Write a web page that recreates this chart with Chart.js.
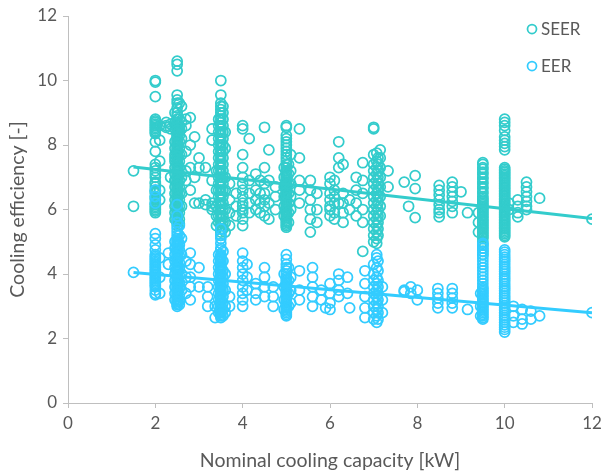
<!DOCTYPE html>
<html>
<head>
<meta charset="utf-8">
<script src="https://cdn.jsdelivr.net/npm/chart.js@4.4.1/dist/chart.umd.min.js"></script>
<style>
  html, body { margin: 0; padding: 0; background: #fff; }
  #wrap { width: 601px; height: 473px; }
</style>
</head>
<body>
<div id="wrap"><canvas id="effChart" width="601" height="473"></canvas></div>
<script>
// capacity columns [kW] and the efficiencies read at each column
const seerColX = [1.5, 2.0, 2.1, 2.25, 2.35, 2.45, 2.5, 2.55, 2.6, 2.7, 2.8, 2.9, 3.0, 3.15, 3.3, 3.4, 3.5, 3.6, 3.7, 3.85,
  4.0, 4.15, 4.3, 4.5, 4.6, 4.75, 5.0, 5.1, 5.3, 5.55, 5.7, 6.0, 6.2, 6.3, 6.45, 6.6, 6.75, 7.0, 7.07, 7.15, 7.33,
  7.7, 7.8, 7.95, 8.5, 8.8, 9.0, 9.15, 9.4, 9.5, 10.0, 10.1, 10.3, 10.5, 10.8, 12.0,
  2.45, 2.55, 2.5, 3.45, 3.55, 2.0, 5.0, 4.95, 5.05, 9.5, 10.0, 7.1, 6.1, 4.4];
const seerColY = [
  [7.2, 6.1],
  [10.0, 9.95, 9.5, 8.8, 8.75, 8.7, 8.65, 8.6, 8.5, 8.45, 8.4, 8.1, 7.8, 7.4, 7.3, 7.2, 7.0, 6.85, 6.8, 6.6, 6.5, 6.4, 6.3, 6.2, 6.1, 6.0, 5.9],
  [8.15, 7.5, 8.6, 6.6, 6.3],
  [8.6, 8.7, 8.55],
  [8.65, 8.5, 7.0],
  [8.7, 8.5, 9.0, 7.6, 6.9],
  [10.6, 10.5, 10.3, 9.55, 9.4, 9.3, 9.15, 9.0, 8.9, 8.8, 8.7, 8.6, 8.5, 8.4, 8.3, 8.2, 8.1, 8.0, 7.9, 7.8, 7.7, 7.6, 7.5, 7.4,
    7.3, 7.2, 7.1, 7.0, 6.9, 6.8, 6.7, 6.6, 6.5, 6.4, 6.3, 6.2, 6.1, 6.0, 5.9, 5.8, 5.7, 5.6, 5.5],
  [9.3, 8.6, 8.8, 8.4, 7.3, 6.9],
  [9.2, 8.7, 8.5, 8.2, 7.7, 7.0, 6.5, 6.1],
  [8.8, 8.6, 7.8, 7.2, 6.9],
  [8.85, 8.0, 7.3, 6.6],
  [8.25, 7.0, 6.2],
  [7.6, 7.3, 6.2],
  [7.3, 6.3, 6.15],
  [8.5, 8.15, 6.9, 6.2, 6.1, 6.0],
  [7.2, 6.6, 6.1, 5.8, 5.5],
  [10.0, 9.55, 9.3, 9.2, 9.1, 9.0, 8.9, 8.8, 8.7, 8.6, 8.5, 8.4, 8.3, 8.2, 8.1, 8.0, 7.9, 7.8, 7.7, 7.6, 7.5, 7.4, 7.3, 7.2,
    7.1, 7.0, 6.9, 6.8, 6.7, 6.6, 6.5, 6.4, 6.3, 6.2, 6.1, 6.0, 5.9, 5.8, 5.7, 5.6, 5.5, 5.4, 5.3, 5.2],
  [8.4, 7.9, 7.0, 6.6, 6.0, 5.6, 5.3],
  [6.8, 6.3, 5.9, 5.5],
  [6.5, 6.1, 5.8],
  [8.6, 8.5, 7.7, 7.3, 7.0, 6.8, 6.6, 6.4, 6.2, 6.1, 6.0, 5.9, 5.7, 5.5],
  [8.2, 6.9, 6.5, 6.2, 5.9],
  [7.1, 6.6, 6.3, 6.0],
  [8.55, 7.3, 6.8, 6.5, 6.3, 6.1, 5.8],
  [7.85, 6.9, 6.2, 5.7],
  [6.7, 6.4, 6.0],
  [8.6, 8.55, 8.3, 8.1, 8.0, 7.8, 7.6, 7.4, 7.3, 7.2, 7.1, 7.0, 6.9, 6.8, 6.7, 6.6, 6.5, 6.4, 6.3, 6.2, 6.1, 6.0, 5.9, 5.8,
    5.7, 5.6, 5.5, 5.45],
  [7.7, 7.2, 6.8, 6.4, 6.0],
  [8.5, 7.6, 6.9, 6.6, 6.2],
  [6.9, 6.6, 6.3, 6.0, 5.7, 5.3],
  [6.5, 6.0, 5.6],
  [7.0, 6.8, 6.5, 6.3, 6.1, 6.0, 5.8],
  [7.6, 7.3, 8.1, 6.2],
  [7.4, 6.5, 6.2, 5.9, 5.6],
  [6.3, 6.0],
  [7.0, 6.6, 6.2, 5.8],
  [7.45, 6.9, 6.5, 6.0, 5.6, 4.7],
  [8.55, 8.5, 7.7, 7.4, 7.2, 7.0, 6.8, 6.6, 6.4, 6.2, 6.0, 5.8, 5.6, 5.4, 5.2, 5.0],
  [7.75, 7.5, 7.3, 7.1, 6.9, 6.7, 6.5, 6.3, 6.1, 5.9, 5.7, 5.5, 5.3, 5.1, 4.95],
  [7.85, 7.6, 7.3, 7.0, 6.7, 6.4, 6.1, 5.8],
  [7.2, 6.7],
  [6.85],
  [6.1],
  [7.05, 6.65, 5.75],
  [6.75, 6.6, 6.45, 6.3, 6.15, 6.0, 5.9, 5.77],
  [6.85, 6.7, 6.55, 6.4, 6.25, 6.1, 5.9],
  [6.55],
  [5.9],
  [5.9, 5.6, 5.3],
  [7.45, 7.3, 7.15, 7.0, 6.85, 6.7, 6.55, 6.4, 6.3, 6.2, 6.1, 6.0, 5.9, 5.8, 5.7, 5.6, 5.5, 5.4, 5.3, 5.2, 5.1, 4.9, 4.7],
  [8.8, 8.6, 8.25, 8.05, 7.85, 7.3, 7.2, 7.1, 7.0, 6.9, 6.8, 6.7, 6.6, 6.5, 6.4, 6.3, 6.2, 6.1, 6.0, 5.9, 5.8, 5.7, 5.6,
    5.5, 5.4, 5.3, 5.2],
  [6.2, 6.0],
  [6.3, 6.1, 5.9, 5.77],
  [6.85, 6.7, 6.55, 6.4, 6.25, 6.1, 6.0],
  [6.35],
  [5.7],
  // second pass on the crowded columns
  [8.1, 7.9, 7.7, 7.5, 7.3, 7.1, 6.9, 6.7, 6.5, 6.3, 6.1, 5.9, 5.7],
  [8.5, 8.3, 8.1, 7.9, 7.7, 7.5, 7.3, 7.1, 6.9, 6.7, 6.5, 6.3, 6.1, 5.9, 5.7, 5.55],
  [8.65, 8.55, 8.45, 8.35, 8.25, 8.15, 8.05, 7.95, 7.85, 7.75, 7.65, 7.55, 7.45, 7.35, 7.25, 7.15, 7.05, 6.95, 6.85,
    6.75, 6.65, 6.55, 6.45, 6.35, 6.25, 6.15, 6.05, 5.95, 5.85, 5.75, 5.65],
  [8.8, 8.6, 8.4, 8.2, 8.0, 7.8, 7.6, 7.4, 7.2, 7.0, 6.8, 6.6, 6.4, 6.2, 6.0, 5.8, 5.6],
  [9.2, 9.0, 8.8, 8.6, 8.4, 8.2, 8.0, 7.8, 7.6, 7.4, 7.2, 7.0, 6.8, 6.6, 6.4, 6.2, 6.0, 5.8, 5.6, 5.4],
  [8.55, 8.35, 7.1, 6.7, 6.55, 6.35, 6.15, 6.05, 5.95],
  [8.2, 7.9, 7.7, 7.5, 7.15, 7.05, 6.95, 6.85, 6.75, 6.65, 6.55, 6.45, 6.35, 6.25, 6.15, 6.05, 5.95, 5.85, 5.75, 5.65, 5.55],
  [7.3, 7.0, 6.7, 6.4, 6.1, 5.8],
  [7.4, 7.1, 6.8, 6.5, 6.2, 5.9, 5.6],
  [7.4, 7.25, 7.1, 6.95, 6.8, 6.65, 6.5, 6.35, 6.25, 6.15, 6.05, 5.95, 5.85, 5.75, 5.65, 5.55, 5.45, 5.35, 5.25, 5.15,
    5.0, 4.8, 4.6],
  [8.7, 8.45, 8.15, 7.95, 7.25, 7.15, 7.05, 6.95, 6.85, 6.75, 6.65, 6.55, 6.45, 6.35, 6.25, 6.15, 6.05, 5.95, 5.85,
    5.75, 5.65, 5.55, 5.45, 5.35, 5.25, 5.15],
  [7.6, 7.4, 7.2, 7.0, 6.8, 6.6, 6.4, 6.2, 6.0, 5.8, 5.6, 5.4, 5.2],
  [6.9, 6.6, 6.4, 6.2, 5.9, 5.7],
  [6.9, 6.5, 6.2, 5.9]
];

const eerColX = [1.5, 2.0, 2.1, 2.3, 2.5, 2.55, 2.6, 2.7, 2.8, 3.0, 3.2, 3.37, 3.45, 3.5, 3.6, 3.7, 4.0, 4.1, 4.3, 4.5,
  4.7, 5.0, 5.1, 5.3, 5.6, 5.8, 5.9, 6.0, 6.2, 6.4, 6.45, 6.8, 7.0, 7.07, 7.2, 7.7, 7.85, 8.0, 8.47, 8.8, 9.15, 9.45,
  9.5, 10.0, 10.2, 10.4, 10.6, 10.8, 12.0,
  2.45, 2.55, 2.5, 3.45, 3.55, 3.5, 5.0, 4.95, 5.05, 9.5, 10.0, 7.1, 2.0];
const eerColY = [
  [4.05],
  [6.6, 6.4, 6.2, 5.25, 5.1, 4.9, 4.75, 4.6, 4.5, 4.4, 4.3, 4.2, 4.1, 4.0, 3.9, 3.8, 3.7, 3.6, 3.4, 3.35],
  [3.4, 4.5, 3.9],
  [4.65, 4.3],
  [6.15, 5.8, 5.6, 5.4, 5.2, 5.1, 5.0, 4.9, 4.8, 4.7, 4.6, 4.5, 4.4, 4.3, 4.2, 4.1, 4.0, 3.9, 3.8, 3.7, 3.6, 3.5, 3.4,
    3.3, 3.2, 3.1, 3.0],
  [5.5, 4.9, 4.2, 3.7, 3.2],
  [5.1, 4.6, 4.0, 3.5],
  [4.4, 3.9, 3.4],
  [4.65, 4.3, 3.9, 3.6, 3.2],
  [4.2, 3.6],
  [3.6, 3.3, 3.0],
  [2.65, 3.0],
  [4.4, 3.8, 3.2],
  [5.4, 5.2, 5.1, 4.8, 4.6, 4.5, 4.4, 4.3, 4.2, 4.1, 4.0, 3.9, 3.8, 3.7, 3.6, 3.5, 3.4, 3.3, 3.2, 3.1, 3.0, 2.9, 2.8,
    2.7, 2.65],
  [4.0, 3.5, 3.0, 2.8],
  [3.0, 3.3],
  [4.65, 4.4, 4.2, 4.0, 3.8, 3.6, 3.4, 3.2, 3.0],
  [4.3, 3.9, 3.5],
  [3.7, 3.4, 3.2],
  [4.2, 3.9, 3.6, 3.3],
  [3.6, 3.3, 3.0],
  [4.6, 4.3, 4.1, 3.9, 3.8, 3.7, 3.6, 3.5, 3.4, 3.3, 3.2, 3.1, 3.0, 2.9, 2.8, 2.7],
  [3.9, 3.5, 3.1],
  [4.1, 3.5, 3.2],
  [4.2, 3.9, 3.6, 3.3, 3.0],
  [3.5, 3.2],
  [2.95],
  [3.7, 3.4, 3.1, 2.9],
  [4.0, 3.8, 3.5, 3.3],
  [3.9, 3.4],
  [2.95],
  [4.1, 3.7, 3.3, 2.95, 2.65],
  [4.3, 4.0, 3.8, 3.6, 3.4, 3.2, 3.0, 2.8, 2.6],
  [4.6, 4.5, 4.2, 3.9, 3.7, 3.5, 3.3, 3.1, 2.9, 2.7, 2.5],
  [3.6, 3.2, 2.8],
  [3.5, 3.45],
  [3.6, 3.4],
  [3.5, 3.2],
  [3.55, 3.4, 3.25, 3.1, 2.95],
  [3.55, 3.4, 3.25, 3.1, 2.95],
  [2.9],
  [3.4, 3.0, 2.7],
  [4.95, 4.8, 4.6, 4.4, 4.2, 4.0, 3.8, 3.6, 3.5, 3.4, 3.3, 3.2, 3.1, 3.0, 2.9, 2.8, 2.7, 2.6],
  [4.75, 4.6, 4.45, 4.3, 4.15, 4.0, 3.85, 3.7, 3.55, 3.4, 3.25, 3.1, 2.95, 2.8, 2.65, 2.5, 2.35, 2.2],
  [3.0, 2.7, 2.5],
  [2.9, 2.6, 2.45],
  [2.85, 2.6],
  [2.7],
  [2.8],
  // second pass on the crowded columns
  [5.0, 4.8, 4.6, 4.4, 4.2, 4.0, 3.8, 3.6, 3.4, 3.2],
  [5.2, 4.95, 4.75, 4.55, 4.35, 4.15, 3.95, 3.75, 3.55, 3.35, 3.15, 3.05],
  [5.3, 5.05, 4.95, 4.85, 4.75, 4.65, 4.55, 4.45, 4.35, 4.25, 4.15, 4.05, 3.95, 3.85, 3.75, 3.65, 3.55, 3.45, 3.35,
    3.25, 3.15, 3.05],
  [4.6, 4.2, 4.0, 3.6, 3.4, 3.0, 2.8],
  [4.7, 4.4, 4.1, 3.9, 3.7, 3.5, 3.3, 3.1, 2.9, 2.7],
  [4.95, 4.75, 4.55, 4.45, 4.35, 4.25, 4.15, 4.05, 3.95, 3.85, 3.75, 3.65, 3.55, 3.45, 3.35, 3.25, 3.15, 3.05, 2.95,
    2.85, 2.75],
  [4.45, 4.2, 4.0, 3.85, 3.75, 3.65, 3.55, 3.45, 3.35, 3.25, 3.15, 3.05, 2.95, 2.85, 2.75],
  [4.0, 3.6, 3.2, 2.9],
  [4.2, 3.8, 3.4, 3.0],
  [4.9, 4.7, 4.5, 4.3, 4.1, 3.9, 3.7, 3.55, 3.45, 3.35, 3.25, 3.15, 3.05, 2.95, 2.85, 2.75, 2.65],
  [4.68, 4.52, 4.38, 4.22, 4.08, 3.92, 3.78, 3.62, 3.48, 3.32, 3.18, 3.02, 2.88, 2.72, 2.58, 2.42, 2.28],
  [4.4, 4.1, 3.8, 3.6, 3.4, 3.2, 3.0, 2.8, 2.6],
  [4.55, 4.45, 4.35, 4.25, 4.15, 4.05, 3.95, 3.85, 3.75, 3.65, 3.5]
];

// linear trendlines, end points
const trendX = [1.5, 12];
const seerTrendY = [7.32, 5.72];
const eerTrendY = [4.05, 2.8];

const seerColor = "#33CCCC";
const eerColor = "#33CCFF";
const textColor = "#595959";
const axisColor = "#BFBFBF";
const fontFamily = "Lato, 'Open Sans', sans-serif";

function toPoints(xs, ys) {
  let pts = [];
  xs.forEach((x, i) => {
    ys[i].forEach(y => pts.push({ x: x, y: y }));
  });
  return pts;
}

// legend drawn inside the plot area, top right
const cornerLegend = {
  id: "cornerLegend",
  afterDraw(chart) {
    const ctx = chart.ctx;
    const rows = [chart.data.datasets[0], chart.data.datasets[1]];
    ctx.save();
    ctx.font = "17px " + fontFamily;
    ctx.textBaseline = "middle";
    rows.forEach((ds, i) => {
      const cy = 29 + i * 37;
      ctx.beginPath();
      ctx.arc(532, cy, 4.5, 0, Math.PI * 2);
      ctx.lineWidth = 1.75;
      ctx.strokeStyle = ds.borderColor;
      ctx.stroke();
      ctx.fillStyle = textColor;
      ctx.fillText(ds.label, 541, cy + 1);
    });
    ctx.restore();
  }
};

const ctx = document.getElementById("effChart").getContext("2d");
const effChart = new Chart(ctx, {
  type: "scatter",
  data: {
    datasets: [
      {
        label: "SEER",
        data: toPoints(seerColX, seerColY),
        borderColor: seerColor,
        backgroundColor: "rgba(0,0,0,0)",
        borderWidth: 1.75,
        pointRadius: 5,
        order: 3
      },
      {
        label: "EER",
        data: toPoints(eerColX, eerColY),
        borderColor: eerColor,
        backgroundColor: "rgba(0,0,0,0)",
        borderWidth: 1.75,
        pointRadius: 5,
        order: 2
      },
      {
        label: "SEER trend",
        type: "line",
        data: trendX.map((x, i) => ({ x: x, y: seerTrendY[i] })),
        borderColor: seerColor,
        borderWidth: 3,
        pointRadius: 0,
        order: 1
      },
      {
        label: "EER trend",
        type: "line",
        data: trendX.map((x, i) => ({ x: x, y: eerTrendY[i] })),
        borderColor: eerColor,
        borderWidth: 3,
        pointRadius: 0,
        order: 0
      }
    ]
  },
  options: {
    responsive: false,
    animation: false,
    layout: { padding: { top: 16, right: 9, left: 0, bottom: 0 } },
    plugins: {
      legend: { display: false },
      tooltip: { enabled: false }
    },
    scales: {
      x: {
        type: "linear",
        min: 0,
        max: 12,
        ticks: { stepSize: 2, color: textColor, font: { family: fontFamily, size: 17 }, padding: 5 },
        grid: { drawOnChartArea: false, color: axisColor, tickLength: 5 },
        border: { color: axisColor, width: 1 },
        title: {
          display: true,
          text: "Nominal cooling capacity [kW]",
          color: textColor,
          font: { family: fontFamily, size: 19.5 },
          padding: { top: 2, bottom: 1 }
        },
        afterFit(scale) {
          scale.height = 70;
          scale.paddingRight = 0;
          scale.paddingLeft = 0;
        }
      },
      y: {
        min: 0,
        max: 12,
        ticks: { stepSize: 2, color: textColor, font: { family: fontFamily, size: 17 }, padding: 6 },
        grid: { drawOnChartArea: false, color: axisColor, tickLength: 5 },
        border: { color: axisColor, width: 1 },
        title: {
          display: true,
          text: "Cooling efficiency [-]",
          color: textColor,
          font: { family: fontFamily, size: 19.5 },
          padding: { top: 6, bottom: 4 }
        },
        afterFit(scale) {
          scale.width = 68;
          scale.paddingTop = 0;
          scale.paddingBottom = 0;
        }
      }
    }
  },
  plugins: [cornerLegend]
});
</script>
</body>
</html>
